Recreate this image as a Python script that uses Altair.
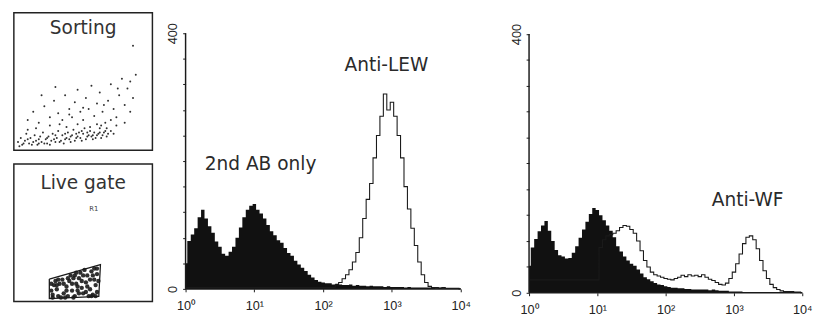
import altair as alt
import pandas as pd

# ---- histogram data (log10 fluorescence bins, 0.05 decade steps) ----
LOG_BINS = [round(i * 0.05, 2) for i in range(81)]

SECOND_AB_LEW = [40, 75, 85, 95, 112, 124, 110, 98, 88, 74,
                 66, 55, 52, 58, 66, 80, 96, 112, 124, 130,
                 133, 124, 118, 110, 100, 90, 84, 76, 72, 64,
                 56, 52, 44, 38, 33, 28, 22, 18, 14, 11,
                 10, 9, 9, 7, 8, 7, 6, 6, 7, 5,
                 6, 5, 5, 4, 5, 4, 4, 4, 3, 4,
                 3, 3, 3, 3, 2, 3, 2, 2, 2, 2,
                 2, 2, 2, 1, 2, 1, 1, 1, 1, 1, 0]

ANTI_LEW = [2] * 44 + [6, 10, 16, 22, 30, 42, 57, 80, 110, 140,
                       165, 205, 240, 270, 305, 280, 292, 270, 240, 205,
                       160, 125, 95, 68, 42, 22, 10, 4, 2, 2,
                       1, 2, 1, 1, 1, 1, 0]

SECOND_AB_WF = [42, 70, 83, 95, 104, 111, 96, 80, 66, 58,
                56, 53, 54, 62, 72, 85, 98, 110, 122, 131,
                128, 120, 112, 104, 96, 86, 72, 64, 56, 50,
                45, 42, 36, 30, 24, 21, 18, 15, 13, 12,
                10, 9, 8, 8, 7, 7, 6, 6, 5, 5,
                5, 5, 5, 4, 5, 4, 3, 3, 3, 2,
                2, 2, 2, 1, 1, 1, 1, 1, 1, 1,
                1, 1, 1, 1, 1, 1, 1, 1, 1, 1, 0]

ANTI_WF = [20] * 21 + [70, 82, 88, 90, 92, 96, 101, 104, 103, 98,
                       92, 80, 65, 50, 40, 32, 28, 26, 24, 22,
                       21, 20, 22, 24, 27, 25, 28, 26, 27, 25,
                       28, 24, 21, 19, 16, 13, 12, 15, 22, 32,
                       45, 60, 76, 86, 88, 82, 68, 50, 34, 22,
                       13, 8, 5, 3, 2, 2, 2, 1, 1, 0]

# ---- scatter (Sorting) ----
SORT_X = [3, 5, 6, 8, 9, 11, 12, 14, 15, 17, 18, 20, 21, 23, 24, 25, 27, 28, 30, 31,
          32, 34, 35, 36, 38, 39, 40, 42, 43, 44, 46, 47, 48, 50, 51, 52, 54, 55, 56, 58,
          59, 61, 62, 64, 66, 68, 10, 16, 26, 33,
          10, 14, 18, 22, 26, 29, 32, 35, 37, 40, 42, 44, 46, 48, 50, 52, 54, 56, 58, 60,
          62, 64, 66, 68, 70, 72, 74, 76, 78, 80, 82, 84, 86, 88, 74, 70, 46, 38, 60, 80,
          86, 20, 30,
          4, 7, 10, 13, 16, 19, 22, 26, 29, 33, 37, 41, 45, 49, 53, 57, 60, 63, 65, 67,
          45, 41, 37, 53, 57, 49, 62, 30, 24, 18, 55, 63, 67, 70, 72, 40, 50, 65, 75, 84]
SORT_Y = [6, 9, 4, 7, 12, 5, 9, 6, 11, 4, 8, 6, 13, 8, 5, 10, 7, 12, 6, 9,
          14, 7, 11, 5, 9, 13, 8, 11, 15, 7, 10, 13, 9, 12, 16, 8, 11, 14, 10, 13,
          9, 12, 16, 11, 14, 12, 15, 16, 18, 19,
          22, 28, 20, 32, 24, 36, 27, 22, 40, 30, 24, 35, 44, 28, 22, 38, 30, 47, 25, 34,
          42, 28, 20, 36, 48, 30, 24, 40, 52, 33, 45, 28, 38, 55, 18, 22, 19, 17, 19, 20,
          76, 40, 46,
          3, 5, 8, 4, 7, 10, 5, 4, 8, 6, 8, 6, 9, 7, 10, 8, 11, 9, 13, 10,
          12, 10, 12, 13, 11, 14, 13, 11, 9, 5, 17, 18, 16, 14, 12, 26, 31, 33, 45, 50]

# ---- Live gate ----
GATE_X = [25.6, 25.6, 61.3, 62.5, 25.6]
GATE_Y = [16.4, 2.1, 3.8, 26.9, 16.4]
LIVE_X = [28, 31, 33, 29, 36, 38, 40, 42, 44, 45, 47, 49, 50, 52, 53, 55, 56, 57, 58, 59,
          60, 60, 48, 44, 35, 30, 27, 39, 46, 54, 34, 41, 51, 58,
          27, 28, 32, 32, 36, 37, 39, 42, 43, 45, 47, 49, 50, 52, 53, 55, 56, 57, 59, 60,
          61, 43, 38, 31, 46]
LIVE_Y = [5, 9, 13, 12, 6, 11, 15, 8, 4, 13, 17, 10, 6, 14, 19, 9, 22, 5, 16, 12,
          20, 7, 21, 19, 16, 15, 8, 4, 8, 4, 3, 19, 23, 24,
          13, 3, 4, 16, 13, 3, 17, 13, 3, 21, 6, 15, 19, 7, 11, 16, 4, 19, 4, 24,
          15, 17, 8, 12, 11]

FONT = "DejaVu Sans"
INK = "#1a1a1a"


# ---------------- scatter panels ----------------
def box(xs, ys, title, ty, extra=None, pt_size=4):
    sx = alt.Scale(domain=[0, 100], nice=False, zero=False)
    sy = alt.Scale(domain=[0, 100], nice=False, zero=False)
    pts = alt.Chart(pd.DataFrame({"x": xs, "y": ys})).mark_circle(
        size=pt_size, color=INK, opacity=0.9
    ).encode(x=alt.X("x:Q", scale=sx, axis=None), y=alt.Y("y:Q", scale=sy, axis=None))
    txt = alt.Chart(pd.DataFrame({"x": [50], "y": [ty], "t": [title]})).mark_text(
        font=FONT, fontSize=19, color="#333"
    ).encode(x=alt.X("x:Q", scale=sx, axis=None), y=alt.Y("y:Q", scale=sy, axis=None), text="t:N")
    layers = [pts, txt]
    if extra is not None:
        layers = extra(sx, sy) + layers
    return alt.layer(*layers).properties(
        width=142, height=141,
        view=alt.ViewBackground(stroke="#222", strokeWidth=1.5),
    )


def gate_layers(sx, sy):
    poly = alt.Chart(pd.DataFrame({"x": GATE_X, "y": GATE_Y, "o": list(range(len(GATE_X)))})).mark_line(
        color=INK, strokeWidth=1.3
    ).encode(x=alt.X("x:Q", scale=sx, axis=None), y=alt.Y("y:Q", scale=sy, axis=None), order="o:Q")
    r1 = alt.Chart(pd.DataFrame({"x": [57.7], "y": [67], "t": ["R1"]})).mark_text(
        font=FONT, fontSize=7, color="#444"
    ).encode(x=alt.X("x:Q", scale=sx, axis=None), y=alt.Y("y:Q", scale=sy, axis=None), text="t:N")
    return [poly, r1]


sorting = box(SORT_X, SORT_Y, "Sorting", 89)
live = box(LIVE_X, LIVE_Y, "Live gate", 86, extra=gate_layers, pt_size=20)
left = alt.vconcat(sorting, live, spacing=12)

# ---------------- histograms ----------------
X_LABELS = ("'10' + (datum.value == 0 ? '⁰' : datum.value == 1 ? '¹' : "
            "datum.value == 2 ? '²' : datum.value == 3 ? '³' : '⁴')")
Y_LABELS = "datum.value == 0 ? '0' : datum.value == 400 ? '400' : ''"


def hist(ctrl, anti, label, lx, ly, width, height, xmax, ymax):
    df = pd.DataFrame({
        "logx": LOG_BINS * 2,
        "count": ctrl + anti,
        "series": ["ctrl"] * len(LOG_BINS) + ["anti"] * len(LOG_BINS),
    })
    xs = alt.Scale(domain=[0, xmax], nice=False, zero=False)
    ys = alt.Scale(domain=[0, ymax], nice=False)
    xenc = alt.X("logx:Q", scale=xs, axis=alt.Axis(
        values=[0, 1, 2, 3, 4], labelExpr=X_LABELS, title=None, grid=False,
        domain=False, tickColor=INK, tickSize=3, tickWidth=1,
        labelFont="Liberation Sans", labelFontSize=13, labelColor="#222", labelPadding=8,
        labelFlush=False))
    yenc = alt.Y("count:Q", scale=ys, axis=alt.Axis(
        values=list(range(0, 401, 40)), labelExpr=Y_LABELS, title=None, grid=False,
        domain=False, tickColor=INK, tickSize=3, tickWidth=1,
        labelFont="Liberation Sans", labelFontSize=13, labelColor="#222",
        labelAngle=-90, labelPadding=3))
    area = alt.Chart(df).transform_filter("datum.series == 'ctrl'").mark_area(
        interpolate="step", color="#111", opacity=1
    ).encode(x=xenc, y=yenc)
    line = alt.Chart(df).transform_filter("datum.series == 'anti'").mark_line(
        interpolate="step", color=INK, strokeWidth=1.1
    ).encode(x=xenc, y=yenc)
    y_rule = alt.Chart(pd.DataFrame({"logx": [0], "count": [0], "count2": [400]})).mark_rule(
        color=INK, strokeWidth=1.5
    ).encode(x=xenc, y=yenc, y2="count2:Q")
    x_rule = alt.Chart(pd.DataFrame({"logx": [0], "logx2": [4], "count": [0]})).mark_rule(
        color=INK, strokeWidth=1.5
    ).encode(x=xenc, x2="logx2:Q", y=yenc)
    text_layers = []
    for t, x, y in zip(label, lx, ly):
        text_layers.append(
            alt.Chart(pd.DataFrame({"logx": [x], "count": [y], "t": [t]})).mark_text(
                font=FONT, fontSize=19, color="#2a2a2a"
            ).encode(x=xenc, y=yenc, text="t:N")
        )
    return alt.layer(area, line, y_rule, x_rule, *text_layers).properties(width=width, height=height)


h1 = hist(SECOND_AB_LEW, ANTI_LEW, ["2nd AB only", "Anti-LEW"], [1.09, 2.92], [195, 350],
          319, 283, 4.525, 432)
h2 = hist(SECOND_AB_WF, ANTI_WF, ["Anti-WF"], [3.2], [143], 280, 287, 4.0, 433)

chart = alt.hconcat(left, h1, h2, spacing=14).properties(
    padding={"left": 5, "top": 0, "right": 0, "bottom": 0},
).configure(background="white").configure_view(stroke="transparent", strokeWidth=0)

chart.save("out.html", embed_options={"renderer": "svg", "actions": False})
